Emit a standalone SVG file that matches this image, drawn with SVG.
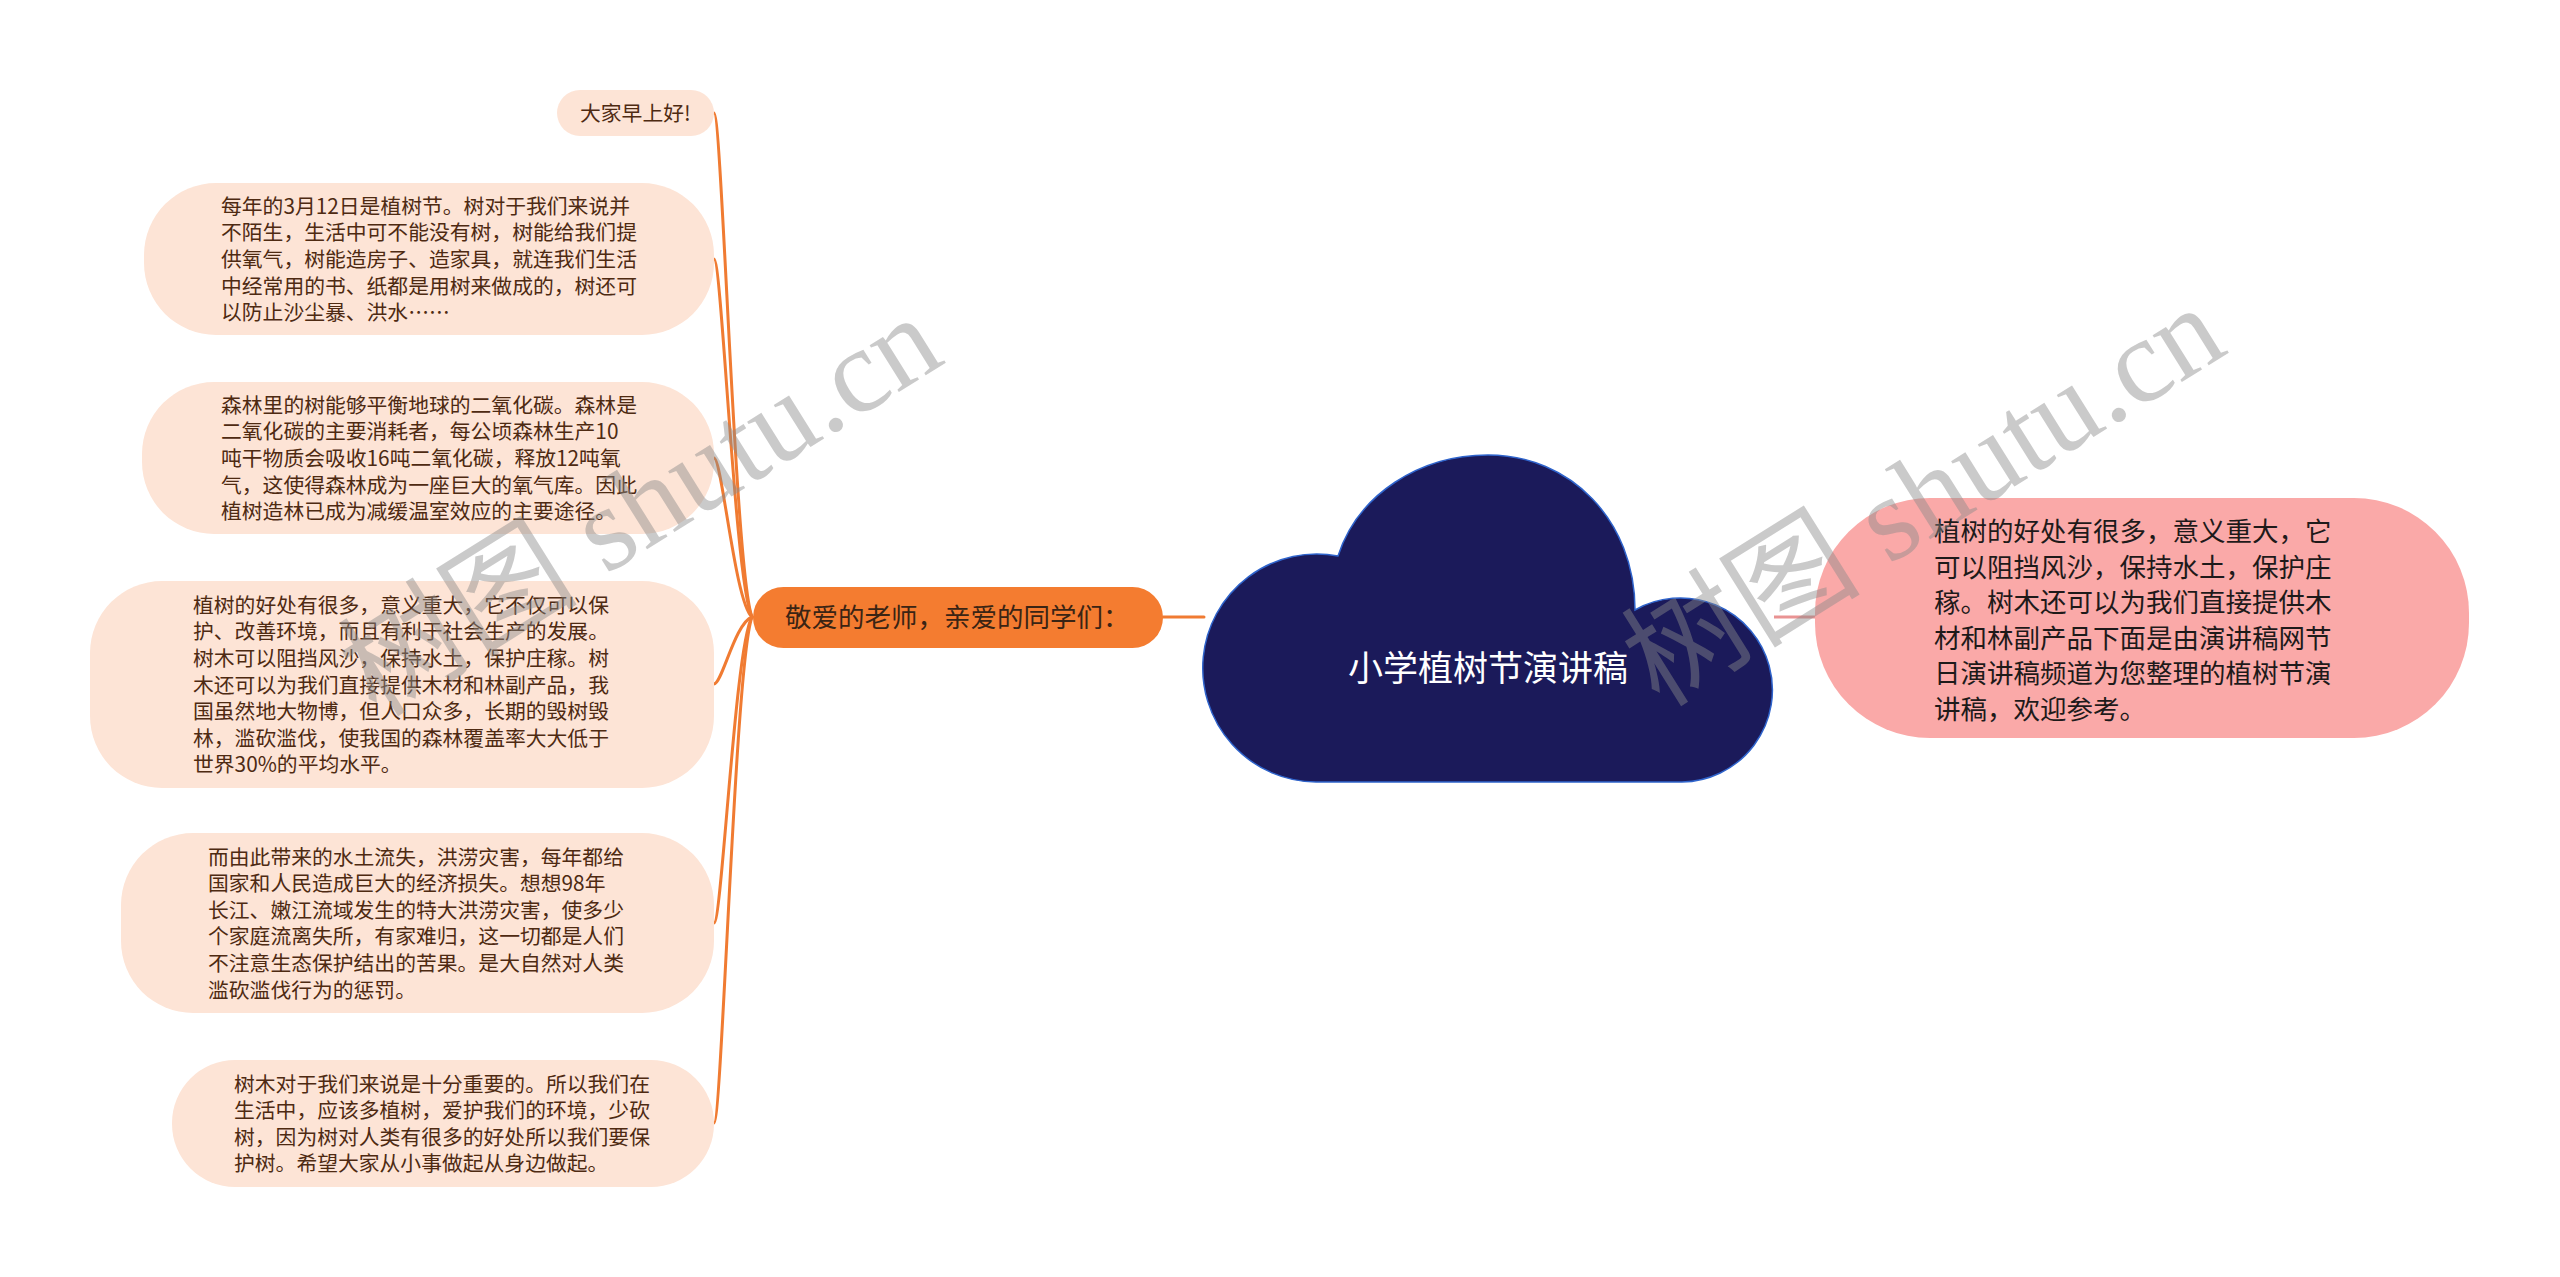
<svg xmlns="http://www.w3.org/2000/svg" width="2560" height="1277" viewBox="0 0 2560 1277">
<style>
.leaf rect{fill:#fde4d6}
.leaf text{font-family:"Noto Sans CJK SC","Noto Sans",sans-serif;font-size:20.8px;fill:#4e2a12}
.conn{fill:none;stroke:#f07b32;stroke-width:3;stroke-linecap:round}
.main rect{fill:#f47c30}
.main text{font-family:"Noto Sans CJK SC","Noto Sans",sans-serif;font-size:26.5px;fill:#3a2414}
.root path{fill:#1b1a5a;stroke:#2f64cc;stroke-width:1.5}
.root text{font-family:"Noto Sans CJK SC","Noto Sans",sans-serif;font-size:35px;fill:#ffffff}
.pink rect{fill:#faa9a8}
.pink text{font-family:"Noto Sans CJK SC","Noto Sans",sans-serif;font-size:26.5px;fill:#1e1a1a}
.wm{font-family:"Liberation Serif","Noto Sans CJK SC",serif;font-size:120px;fill:#8a8a8a;fill-opacity:0.45}
</style>
<rect width="2560" height="1277" fill="#ffffff"/>
<g id="connectors">
<path class="conn" d="M714 113 C722 113 735 572 752 617"/>
<path class="conn" d="M714 259 C722 259 735 585 752 617"/>
<path class="conn" d="M714 458 C722 458 735 603 752 617"/>
<path class="conn" d="M714 684 C722 684 735 623 752 617"/>
<path class="conn" d="M714 923 C722 923 735 645 752 617"/>
<path class="conn" d="M714 1123 C722 1123 735 663 752 617"/>
<path class="conn" d="M1163 617 L1204 617"/>
<path d="M1774 617 L1816 617" fill="none" stroke="#e99393" stroke-width="3"/>
</g>
<g id="root" class="root">
<path d="M1316 782 A114 114 0 1 1 1338 556 C1358 494 1420 455 1488 455 C1570 455 1635 520 1635 610 A92 92 0 1 1 1682 782 Z"/>
<text x="1488" y="681" text-anchor="middle">小学植树节演讲稿</text>
</g>
<g id="main" class="main">
<rect x="753" y="587" width="410" height="61" rx="30.5"/>
<text x="785" y="627">敬爱的老师，亲爱的同学们：</text>
</g>
<g id="pink" class="pink">
<rect x="1815" y="498" width="654" height="240" rx="115"/>
<text x="1934"><tspan x="1934" y="541.2">植树的好处有很多，意义重大，它</tspan><tspan x="1934" y="576.7">可以阻挡风沙，保持水土，保护庄</tspan><tspan x="1934" y="612.2">稼。树木还可以为我们直接提供木</tspan><tspan x="1934" y="647.7">材和林副产品下面是由演讲稿网节</tspan><tspan x="1934" y="683.2">日演讲稿频道为您整理的植树节演</tspan><tspan x="1934" y="718.7">讲稿，欢迎参考。</tspan></text>
</g>
<g id="leaf1" class="leaf">
<rect x="557" y="90" width="157" height="46" rx="23"/>
<text x="580" y="121">大家早上好!</text>
</g>
<g id="leaf2" class="leaf">
<rect x="144" y="183" width="570" height="152" rx="72"/>
<text><tspan x="221" y="213.8">每年的3月12日是植树节。树对于我们来说并</tspan><tspan x="221" y="240.4">不陌生，生活中可不能没有树，树能给我们提</tspan><tspan x="221" y="267">供氧气，树能造房子、造家具，就连我们生活</tspan><tspan x="221" y="293.6">中经常用的书、纸都是用树来做成的，树还可</tspan><tspan x="221" y="320.2">以防止沙尘暴、洪水……</tspan></text>
</g>
<g id="leaf3" class="leaf">
<rect x="142" y="382" width="572" height="152" rx="72"/>
<text><tspan x="221" y="412.8">森林里的树能够平衡地球的二氧化碳。森林是</tspan><tspan x="221" y="439.4">二氧化碳的主要消耗者，每公顷森林生产10</tspan><tspan x="221" y="466">吨干物质会吸收16吨二氧化碳，释放12吨氧</tspan><tspan x="221" y="492.6">气，这使得森林成为一座巨大的氧气库。因此</tspan><tspan x="221" y="519.2">植树造林已成为减缓温室效应的主要途径。</tspan></text>
</g>
<g id="leaf4" class="leaf">
<rect x="90" y="581" width="624" height="207" rx="72"/>
<text><tspan x="193" y="612.7">植树的好处有很多，意义重大，它不仅可以保</tspan><tspan x="193" y="639.3">护、改善环境，而且有利于社会生产的发展。</tspan><tspan x="193" y="665.9">树木可以阻挡风沙，保持水土，保护庄稼。树</tspan><tspan x="193" y="692.5">木还可以为我们直接提供木材和林副产品，我</tspan><tspan x="193" y="719.1">国虽然地大物博，但人口众多，长期的毁树毁</tspan><tspan x="193" y="745.7">林，滥砍滥伐，使我国的森林覆盖率大大低于</tspan><tspan x="193" y="772.3">世界30%的平均水平。</tspan></text>
</g>
<g id="leaf5" class="leaf">
<rect x="121" y="833" width="593" height="180" rx="72"/>
<text><tspan x="208" y="864.5">而由此带来的水土流失，洪涝灾害，每年都给</tspan><tspan x="208" y="891.1">国家和人民造成巨大的经济损失。想想98年</tspan><tspan x="208" y="917.7">长江、嫩江流域发生的特大洪涝灾害，使多少</tspan><tspan x="208" y="944.3">个家庭流离失所，有家难归，这一切都是人们</tspan><tspan x="208" y="970.9">不注意生态保护结出的苦果。是大自然对人类</tspan><tspan x="208" y="997.5">滥砍滥伐行为的惩罚。</tspan></text>
</g>
<g id="leaf6" class="leaf">
<rect x="172" y="1060" width="542" height="127" rx="63"/>
<text><tspan x="234" y="1091.6">树木对于我们来说是十分重要的。所以我们在</tspan><tspan x="234" y="1118.2">生活中，应该多植树，爱护我们的环境，少砍</tspan><tspan x="234" y="1144.8">树，因为树对人类有很多的好处所以我们要保</tspan><tspan x="234" y="1171.4">护树。希望大家从小事做起从身边做起。</tspan></text>
</g>
<g id="watermarks">
<text class="wm" x="662" y="540" text-anchor="middle" transform="rotate(-32 662 540)">树图 shutu.cn</text>
<text class="wm" x="1945" y="530" text-anchor="middle" transform="rotate(-32 1945 530)">树图 shutu.cn</text>
</g>
</svg>
